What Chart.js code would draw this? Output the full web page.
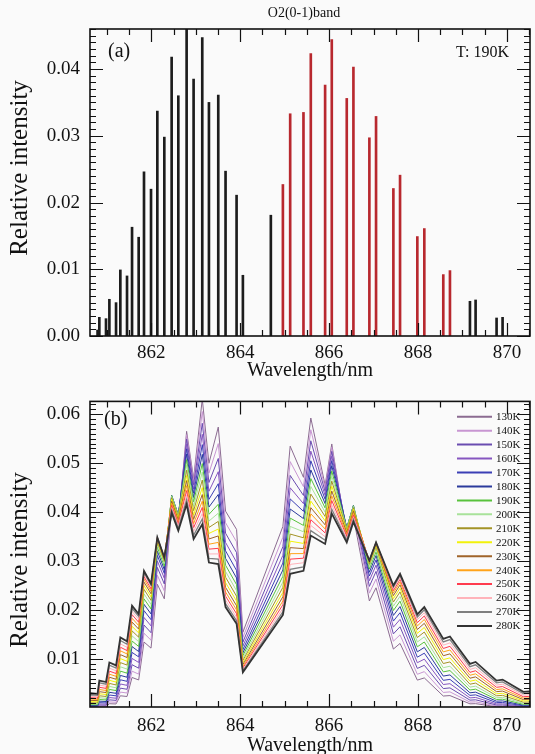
<!DOCTYPE html>
<html><head><meta charset="utf-8">
<script src="https://cdn.jsdelivr.net/npm/chart.js@4.4.0/dist/chart.umd.min.js"></script>
<style>
html,body{margin:0;padding:0;background:#fafafa;}
#wrap{position:relative;width:535px;height:754px;overflow:hidden;background:#fafafa;}
canvas{position:absolute;left:0;}
#c1{top:0;width:535px;height:383px;}
#c2{top:380px;width:535px;height:378px;}
</style></head><body>
<div id="wrap"><canvas id="c1" width="535" height="383"></canvas><canvas id="c2" width="535" height="378"></canvas></div>
<script>
// ---------- (a) stick spectrum at 190K ----------
const blackX = [860.79, 860.83, 860.98, 861.056, 861.206, 861.303, 861.453, 861.566, 861.715, 861.835, 861.993, 862.135, 862.292, 862.457, 862.607, 862.794, 862.951, 863.146, 863.296, 863.506, 863.67, 863.918, 864.06, 864.689, 869.169, 869.296, 869.768, 869.903];
const blackY = [0.0009, 0.0028, 0.0026, 0.0055, 0.0050, 0.0099, 0.0090, 0.0163, 0.0148, 0.0246, 0.0220, 0.0337, 0.0298, 0.0418, 0.0360, 0.0490, 0.0385, 0.0447, 0.0350, 0.0361, 0.0247, 0.0211, 0.0091, 0.0181, 0.0052, 0.0054, 0.0027, 0.0028];
const redX = [864.96, 865.124, 865.423, 865.588, 865.91, 866.06, 866.397, 866.547, 866.906, 867.056, 867.446, 867.596, 867.985, 868.142, 868.569, 868.719];
const redY = [0.0227, 0.0333, 0.0335, 0.0423, 0.0376, 0.0444, 0.0356, 0.0403, 0.0297, 0.0329, 0.0221, 0.0241, 0.0149, 0.0161, 0.0092, 0.0098];

// ---------- (b) temperature series ----------
const lineX = [860.45, 860.64, 860.79, 860.83, 860.98, 861.056, 861.206, 861.303, 861.453, 861.566, 861.715, 861.835, 861.993, 862.135, 862.292, 862.457, 862.607, 862.794, 862.951, 863.146, 863.296, 863.506, 863.67, 863.918, 864.06, 864.96, 865.124, 865.423, 865.588, 865.91, 866.06, 866.397, 866.547, 866.906, 867.056, 867.446, 867.596, 867.985, 868.142, 868.569, 868.719, 869.169, 869.296, 869.768, 869.903, 870.37, 870.5, 871.0];
const tempLabels = ['130K','140K','150K','160K','170K','180K','190K','200K','210K','220K','230K','240K','250K','260K','270K','280K'];
const tempColors = ['#8b6b91','#c896d2','#6a4cb0','#8656c0','#3b3fb5','#2b3a9c','#58c23c','#a8e29a','#a39326','#f2f20a','#a0642a','#ffa31a','#ff3b4e','#ffb3ba','#7f7f7f','#333333'];
const I130 = [0.00002,0.00007,0.00007,0.00027,0.00025,0.00087,0.00082,0.00249,0.00235,0.00623,0.00572,0.01347,0.01222,0.02526,0.02229,0.04094,0.03714,0.05649,0.04685,0.06308,0.04996,0.05736,0.04019,0.03645,0.01547,0.03707,0.05346,0.0471,0.05921,0.04549,0.05391,0.03468,0.03899,0.02185,0.02454,0.01203,0.01318,0.00569,0.00614,0.00244,0.00253,0.00085,0.00088,0.00027,0.00028,0.00008,0.00008,0.00002];
const I140 = [0.00003,0.00012,0.00011,0.00041,0.00039,0.00124,0.00116,0.00324,0.00306,0.00752,0.00691,0.01526,0.01384,0.02711,0.02392,0.04197,0.03808,0.05579,0.04626,0.06053,0.04794,0.05398,0.03782,0.03392,0.0144,0.03488,0.05031,0.04519,0.05681,0.04492,0.05324,0.03556,0.03998,0.02345,0.02633,0.01363,0.01493,0.00688,0.00742,0.00317,0.00329,0.0012,0.00125,0.00041,0.00043,0.00013,0.00013,0.00003];
const I150 = [0.00006,0.00018,0.00018,0.0006,0.00057,0.00166,0.00155,0.00405,0.00382,0.00884,0.00812,0.01694,0.01537,0.02871,0.02533,0.04265,0.0387,0.05491,0.04554,0.05813,0.04604,0.05095,0.0357,0.03172,0.01346,0.03293,0.04748,0.0434,0.05456,0.04422,0.0524,0.03613,0.04062,0.02483,0.02789,0.01513,0.01658,0.00808,0.00871,0.00396,0.0041,0.0016,0.00167,0.0006,0.00062,0.0002,0.00021,0.00006];
const I160 = [0.00009,0.00027,0.00026,0.00082,0.00078,0.00213,0.00199,0.0049,0.00462,0.01012,0.00929,0.01848,0.01676,0.03003,0.02649,0.04313,0.03913,0.05391,0.04471,0.05588,0.04425,0.04825,0.0338,0.02977,0.01264,0.03118,0.04496,0.04172,0.05245,0.04342,0.05145,0.03654,0.04108,0.02598,0.02917,0.0165,0.01808,0.00924,0.00997,0.00479,0.00496,0.00206,0.00215,0.00082,0.00085,0.0003,0.00031,0.0001];
const I170 = [0.00014,0.00039,0.00037,0.00109,0.00103,0.00265,0.00248,0.00576,0.00544,0.01135,0.01043,0.01988,0.01803,0.03115,0.02748,0.04337,0.03935,0.05292,0.04388,0.05378,0.04259,0.0458,0.03209,0.02807,0.01191,0.0296,0.04269,0.04015,0.05048,0.04261,0.0505,0.03674,0.04131,0.02694,0.03025,0.01775,0.01945,0.01037,0.01119,0.00564,0.00584,0.00257,0.00268,0.00109,0.00113,0.00043,0.00044,0.00015];
const I180 = [0.0002,0.00052,0.0005,0.00139,0.00132,0.0032,0.00299,0.00665,0.00628,0.01254,0.01152,0.02117,0.0192,0.03205,0.02827,0.04341,0.03939,0.05183,0.04299,0.05179,0.04102,0.0436,0.03055,0.02654,0.01126,0.02818,0.04063,0.03867,0.04861,0.04174,0.04947,0.03677,0.04134,0.02772,0.03113,0.0189,0.02071,0.01146,0.01236,0.00651,0.00675,0.0031,0.00323,0.00139,0.00144,0.00057,0.00059,0.00021];
const I190 = [0.00028,0.00068,0.00066,0.00173,0.00164,0.00379,0.00355,0.00753,0.00711,0.01367,0.01256,0.02229,0.02022,0.03282,0.02895,0.04337,0.03935,0.05071,0.04206,0.04991,0.03953,0.0416,0.02915,0.02518,0.01069,0.02689,0.03877,0.03727,0.04685,0.04084,0.04839,0.03674,0.04131,0.02838,0.03187,0.0199,0.02181,0.01249,0.01347,0.00737,0.00764,0.00367,0.00384,0.00173,0.00179,0.00075,0.00078,0.00029];
const I200 = [0.00037,0.00087,0.00084,0.00209,0.00198,0.0044,0.00412,0.00841,0.00794,0.01473,0.01354,0.0233,0.02113,0.03341,0.02947,0.04321,0.0392,0.04963,0.04116,0.04819,0.03816,0.03978,0.02787,0.02394,0.01016,0.02571,0.03707,0.03598,0.04523,0.03997,0.04736,0.0366,0.04115,0.0289,0.03245,0.0208,0.0228,0.01347,0.01452,0.00823,0.00853,0.00426,0.00445,0.00209,0.00217,0.00095,0.00098,0.00039];
const I210 = [0.00048,0.00107,0.00104,0.00249,0.00235,0.00502,0.0047,0.00927,0.00876,0.01574,0.01446,0.02422,0.02197,0.0339,0.0299,0.04293,0.03895,0.04855,0.04026,0.04654,0.03686,0.0381,0.0267,0.02282,0.00969,0.02462,0.03551,0.03475,0.04368,0.0391,0.04633,0.03637,0.04089,0.02932,0.03292,0.02163,0.0237,0.01438,0.01551,0.00908,0.0094,0.00486,0.00508,0.00249,0.00258,0.00118,0.00122,0.00051];
const I220 = [0.00061,0.0013,0.00126,0.0029,0.00275,0.00565,0.00528,0.01009,0.00953,0.01668,0.01532,0.025,0.02268,0.03424,0.03021,0.04261,0.03866,0.04747,0.03936,0.045,0.03564,0.03654,0.02561,0.02181,0.00926,0.02362,0.03406,0.0336,0.04224,0.03822,0.0453,0.0361,0.04058,0.02962,0.03326,0.02233,0.02447,0.01524,0.01644,0.00988,0.01023,0.00546,0.00571,0.0029,0.003,0.00143,0.00148,0.00065];
const I230 = [0.00075,0.00155,0.0015,0.00333,0.00315,0.00628,0.00587,0.0109,0.0103,0.01754,0.01611,0.0257,0.02332,0.03452,0.03045,0.04225,0.03834,0.04643,0.0385,0.04358,0.03451,0.03513,0.02462,0.02088,0.00886,0.02271,0.03274,0.03254,0.0409,0.03739,0.0443,0.03579,0.04024,0.02986,0.03353,0.02295,0.02515,0.01602,0.01728,0.01067,0.01105,0.00608,0.00635,0.00333,0.00345,0.00171,0.00176,0.0008];
const I240 = [0.00091,0.00182,0.00175,0.00377,0.00357,0.0069,0.00646,0.01168,0.01103,0.01833,0.01684,0.02629,0.02385,0.0347,0.03061,0.04182,0.03794,0.04539,0.03764,0.04223,0.03344,0.03381,0.02369,0.02002,0.0085,0.02185,0.03151,0.03153,0.03964,0.03655,0.04331,0.03542,0.03982,0.03001,0.0337,0.02348,0.02573,0.01675,0.01807,0.01144,0.01184,0.00668,0.00697,0.00377,0.0039,0.002,0.00206,0.00097];
const I250 = [0.00109,0.00209,0.00202,0.00422,0.004,0.00752,0.00704,0.01241,0.01172,0.01906,0.01751,0.02682,0.02433,0.0348,0.0307,0.04138,0.03754,0.04439,0.03681,0.04095,0.03243,0.0326,0.02285,0.01923,0.00816,0.02107,0.03039,0.03058,0.03844,0.03574,0.04236,0.03505,0.03941,0.0301,0.0338,0.02395,0.02625,0.01742,0.01879,0.01215,0.01259,0.00728,0.0076,0.00422,0.00437,0.0023,0.00237,0.00116];
const I260 = [0.00128,0.00239,0.00231,0.00468,0.00443,0.00813,0.0076,0.0131,0.01238,0.01973,0.01812,0.02727,0.02474,0.03487,0.03076,0.0409,0.03711,0.04343,0.03602,0.03971,0.03145,0.03146,0.02204,0.01851,0.00785,0.02033,0.02932,0.02965,0.03728,0.03497,0.04145,0.03465,0.03895,0.03016,0.03387,0.02435,0.02669,0.01803,0.01945,0.01283,0.01329,0.00787,0.00822,0.00468,0.00485,0.00262,0.0027,0.00136];
const I270 = [0.00148,0.00269,0.0026,0.00514,0.00487,0.00872,0.00816,0.01377,0.013,0.02034,0.01868,0.02766,0.0251,0.03483,0.03073,0.04042,0.03667,0.04252,0.03526,0.03859,0.03056,0.0304,0.0213,0.01782,0.00756,0.01965,0.02833,0.02881,0.03622,0.03424,0.04057,0.03424,0.03849,0.03013,0.03383,0.0247,0.02707,0.01858,0.02004,0.01348,0.01396,0.00844,0.00882,0.00514,0.00532,0.00296,0.00305,0.00157];
const I280 = [0.0017,0.003,0.0029,0.0056,0.0053,0.0093,0.0087,0.0144,0.0136,0.0209,0.0192,0.028,0.0254,0.0348,0.0307,0.0399,0.0362,0.0416,0.0345,0.0375,0.0297,0.0294,0.0206,0.0172,0.0073,0.019,0.0274,0.028,0.0352,0.0335,0.0397,0.0338,0.038,0.0301,0.0338,0.025,0.0274,0.0191,0.0206,0.0141,0.0146,0.009,0.0094,0.0056,0.0058,0.0033,0.0034,0.0018];
const seriesValues = [I130,I140,I150,I160,I170,I180,I190,I200,I210,I220,I230,I240,I250,I260,I270,I280];

const xTickLabels = [862, 864, 866, 868, 870];
const yTickLabelsA = [0.00, 0.01, 0.02, 0.03, 0.04];
const yTickLabelsB = [0.01, 0.02, 0.03, 0.04, 0.05, 0.06];

// ---------- shared styling ----------
const SERIF = "'Liberation Serif','Times New Roman',serif";
const INK = '#111';
const XMIN = 860.62, XMAX = 870.52;

function frameTicks(yMaxMinorCount) {
  return {
    id: 'frameTicks',
    afterDatasetsDraw(chart) {
      const {ctx, chartArea: a, scales} = chart;
      const xs = scales.x, ys = scales.y;
      ctx.save();
      ctx.strokeStyle = INK;
      ctx.lineWidth = 1.2;
      ctx.beginPath();
      for (let k = -4; k <= 25; k++) {
        const v = 860 + k * 0.5;
        if (v < xs.min || v > xs.max) continue;
        const p = Math.round(xs.getPixelForValue(v)) + 0.5;
        const len = (k % 4 === 0) ? 13 : 6;
        ctx.moveTo(p, a.bottom); ctx.lineTo(p, a.bottom - len);
        ctx.moveTo(p, a.top); ctx.lineTo(p, a.top + len);
      }
      for (let k = 0; k <= yMaxMinorCount; k++) {
        const v = k * 0.001;
        if (v < ys.min || v > ys.max) continue;
        const p = Math.round(ys.getPixelForValue(v)) + 0.5;
        const len = (k % 10 === 0) ? 13 : 6;
        ctx.moveTo(a.left, p); ctx.lineTo(a.left + len, p);
        ctx.moveTo(a.right, p); ctx.lineTo(a.right - len, p);
      }
      ctx.stroke();
      ctx.lineWidth = 1.6;
      ctx.strokeRect(a.left, a.top, a.right - a.left, a.bottom - a.top);
      ctx.restore();
    }
  };
}

function textPlugin(items, yTitle) {
  return {
    id: 'notes',
    afterDraw(chart) {
      const ctx = chart.ctx;
      ctx.save();
      ctx.fillStyle = INK;
      ctx.textBaseline = 'middle';
      items.forEach(t => {
        ctx.font = t.size + 'px ' + SERIF;
        ctx.textAlign = t.align || 'left';
        ctx.fillText(t.text, t.x, t.y);
      });
      ctx.translate(yTitle.x, yTitle.y);
      ctx.rotate(-Math.PI / 2);
      ctx.textAlign = 'center';
      ctx.font = yTitle.size + 'px ' + SERIF;
      ctx.fillText(yTitle.text, 0, 0);
      ctx.restore();
    }
  };
}

function xScale(height, pad) {
  return {
    type: 'linear', min: XMIN, max: XMAX, offset: false,
    grid: {display: false, drawTicks: false},
    border: {display: false},
    afterFit(s) { s.height = height; },
    afterBuildTicks(s) { s.ticks = xTickLabels.map(v => ({value: v})); },
    ticks: {color: INK, font: {family: SERIF, size: 19}, padding: pad, maxRotation: 0,
      callback: v => String(v)},
    title: {display: true, text: 'Wavelength/nm', color: INK, font: {family: SERIF, size: 20}, padding: {top: 0, bottom: 0}}
  };
}
function yScale(min, max, labels) {
  return {
    type: 'linear', min: min, max: max,
    grid: {display: false, drawTicks: false},
    border: {display: false},
    afterFit(s) { s.width = 90; },
    afterBuildTicks(s) { s.ticks = labels.map(v => ({value: v})); },
    ticks: {color: INK, font: {family: SERIF, size: 19}, padding: 10, callback: v => v.toFixed(2)},
    title: {display: false}
  };
}

// ---------- chart (a) ----------
new Chart(document.getElementById('c1'), {
  type: 'bar',
  data: {
    datasets: [
      {label: 'R', data: blackX.map((x, i) => ({x: x, y: blackY[i]})), backgroundColor: '#1c1c1c', barThickness: 2, grouped: false},
      {label: 'P', data: redX.map((x, i) => ({x: x, y: redY[i]})), backgroundColor: '#b8282e', barThickness: 2, grouped: false}
    ]
  },
  options: {
    responsive: false, animation: false,
    layout: {autoPadding: false, padding: {left: 0, right: 5, top: 29, bottom: 0}},
    plugins: {legend: {display: false}, tooltip: {enabled: false}},
    scales: {x: xScale(47, 6), y: yScale(0, 0.046, yTickLabelsA)}
  },
  plugins: [frameTicks(46), textPlugin([
    {text: 'O2(0-1)band', x: 304, y: 13, size: 14, align: 'center'},
    {text: '(a)', x: 108, y: 52, size: 20},
    {text: 'T: 190K', x: 456, y: 53, size: 16}
  ], {text: 'Relative intensity', x: 20, y: 168, size: 25})]
});

// ---------- chart (b) ----------
const legendPlugin = {
  id: 'tempLegend',
  afterDraw(chart) {
    const ctx = chart.ctx;
    ctx.save();
    ctx.textBaseline = 'middle';
    ctx.textAlign = 'left';
    ctx.font = '11px ' + SERIF;
    tempLabels.forEach((lab, i) => {
      const y = 36.7 + i * 13.95;
      ctx.strokeStyle = tempColors[i];
      ctx.lineWidth = 2;
      ctx.beginPath(); ctx.moveTo(457, y); ctx.lineTo(492, y); ctx.stroke();
      ctx.fillStyle = INK;
      ctx.fillText(lab, 496, y + 0.5);
    });
    ctx.restore();
  }
};

new Chart(document.getElementById('c2'), {
  type: 'line',
  data: {
    datasets: seriesValues.map((vals, i) => ({
      label: tempLabels[i],
      data: lineX.map((x, j) => ({x: x, y: vals[j]})),
      borderColor: tempColors[i],
      borderWidth: i === 15 ? 1.8 : (i === 14 ? 1.3 : 1),
      pointRadius: 0, tension: 0, fill: false,
      order: 15 - i
    }))
  },
  options: {
    responsive: false, animation: false,
    layout: {autoPadding: false, padding: {left: 0, right: 5, top: 20, bottom: 0}},
    plugins: {legend: {display: false}, tooltip: {enabled: false}},
    scales: {x: xScale(51, 8), y: yScale(0.0002, 0.0626, yTickLabelsB)}
  },
  plugins: [frameTicks(62), legendPlugin, textPlugin([
    {text: '(b)', x: 104, y: 40, size: 20}
  ], {text: 'Relative intensity', x: 20, y: 180, size: 25})]
});
</script>
</body></html>
